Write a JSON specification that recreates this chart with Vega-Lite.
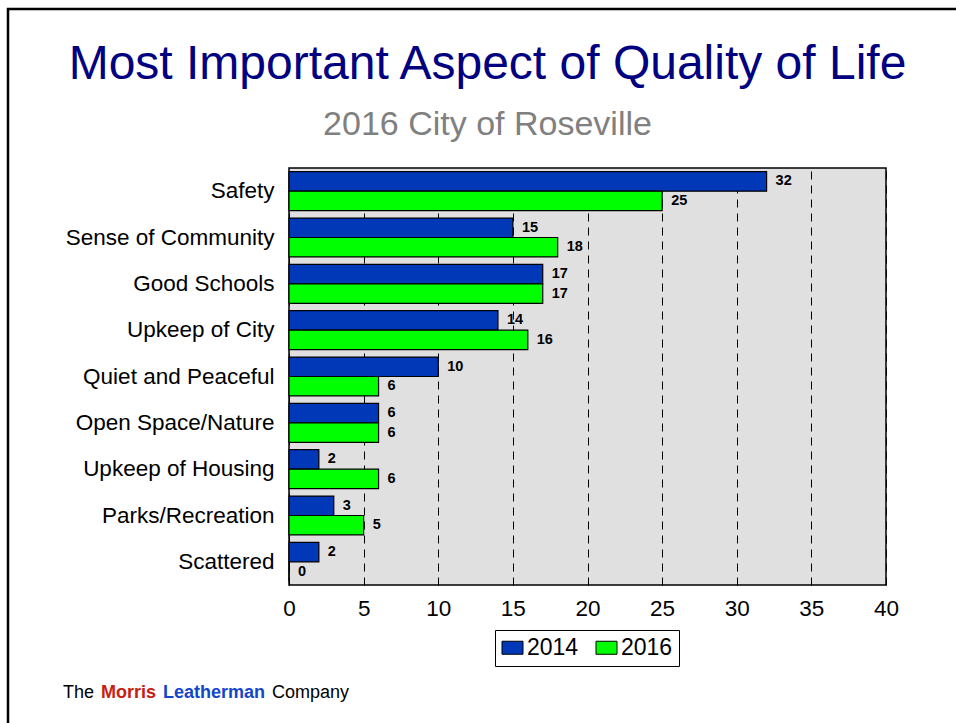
{
  "$schema": "https://vega.github.io/schema/vega-lite/v6.json",
  "autosize": {"type": "none"},
  "padding": {"left": 289, "top": 168, "right": 70, "bottom": 138},
  "width": 597,
  "height": 417,
  "background": "white",
  "config": {
    "font": "Liberation Sans",
    "view": {"fill": "#e0e0e0", "stroke": "black", "strokeWidth": 1.5}
  },
  "title": {
    "text": "Most Important Aspect of Quality of Life",
    "subtitle": "2016 City of Roseville",
    "fontSize": 48,
    "fontWeight": "normal",
    "color": "#000080",
    "subtitleFontSize": 34,
    "subtitleColor": "#808080",
    "anchor": "middle",
    "frame": "group",
    "dx": -100,
    "dy": 160,
    "offset": 26,
    "subtitlePadding": 19
  },
  "data": {
    "values": [
      {"category": "Safety", "year": "2014", "value": 32},
      {"category": "Safety", "year": "2016", "value": 25},
      {"category": "Sense of Community", "year": "2014", "value": 15},
      {"category": "Sense of Community", "year": "2016", "value": 18},
      {"category": "Good Schools", "year": "2014", "value": 17},
      {"category": "Good Schools", "year": "2016", "value": 17},
      {"category": "Upkeep of City", "year": "2014", "value": 14},
      {"category": "Upkeep of City", "year": "2016", "value": 16},
      {"category": "Quiet and Peaceful", "year": "2014", "value": 10},
      {"category": "Quiet and Peaceful", "year": "2016", "value": 6},
      {"category": "Open Space/Nature", "year": "2014", "value": 6},
      {"category": "Open Space/Nature", "year": "2016", "value": 6},
      {"category": "Upkeep of Housing", "year": "2014", "value": 2},
      {"category": "Upkeep of Housing", "year": "2016", "value": 6},
      {"category": "Parks/Recreation", "year": "2014", "value": 3},
      {"category": "Parks/Recreation", "year": "2016", "value": 5},
      {"category": "Scattered", "year": "2014", "value": 2},
      {"category": "Scattered", "year": "2016", "value": 0}
    ]
  },
  "layer": [
    {
      "mark": {"type": "bar", "stroke": "black", "strokeWidth": 1.2},
      "encoding": {
        "y": {
          "field": "category", "type": "nominal", "sort": null,
          "scale": {"paddingInner": 0.16, "paddingOuter": 0.08},
          "axis": {"title": null, "ticks": false, "domain": false, "labelFontSize": 22.5, "labelColor": "black", "labelPadding": 15, "labelLimit": 400}
        },
        "yOffset": {"field": "year", "type": "nominal", "scale": {"paddingInner": 0, "paddingOuter": 0}},
        "x": {
          "field": "value", "type": "quantitative",
          "scale": {"domain": [0, 40], "nice": false},
          "axis": {"title": null, "values": [0, 5, 10, 15, 20, 25, 30, 35, 40], "ticks": false, "domain": false, "labelFontSize": 22.5, "labelColor": "black", "labelPadding": 12, "labelFlush": false, "labelBound": false, "grid": true, "gridColor": "black", "gridOpacity": 1, "gridDash": [8, 6], "gridWidth": 1}
        },
        "color": {
          "field": "year", "type": "nominal",
          "scale": {"domain": ["2014", "2016"], "range": ["#0038B8", "#00FF00"]},
          "legend": {
            "title": null, "orient": "none", "legendX": 206, "legendY": 462, "direction": "horizontal",
            "symbolType": "M-1,-0.62H1V0.62H-1Z", "symbolSize": 441, "symbolStrokeColor": "black", "symbolStrokeWidth": 1,
            "labelFontSize": 23, "labelColor": "black", "labelOffset": 3, "columnPadding": 15,
            "strokeColor": "black", "fillColor": "white", "padding": 6
          }
        }
      }
    },
    {
      "mark": {"type": "text", "align": "left", "baseline": "middle", "dx": 9, "fontWeight": "bold", "fontSize": 14.5, "color": "black"},
      "encoding": {
        "y": {"field": "category", "type": "nominal", "sort": null},
        "yOffset": {"field": "year", "type": "nominal"},
        "x": {"field": "value", "type": "quantitative"},
        "text": {"field": "value", "type": "quantitative"}
      }
    },
    {
      "data": {"values": [{}]},
      "mark": {"type": "text", "text": "The", "align": "left", "baseline": "alphabetic", "fontSize": 18, "color": "black"},
      "encoding": {"x": {"value": -226}, "y": {"value": 530}}
    },
    {
      "data": {"values": [{}]},
      "mark": {"type": "text", "text": "Morris", "align": "left", "baseline": "alphabetic", "fontSize": 18, "fontWeight": "bold", "color": "#C8200E"},
      "encoding": {"x": {"value": -188}, "y": {"value": 530}}
    },
    {
      "data": {"values": [{}]},
      "mark": {"type": "text", "text": "Leatherman", "align": "left", "baseline": "alphabetic", "fontSize": 18, "fontWeight": "bold", "color": "#1446C8"},
      "encoding": {"x": {"value": -126}, "y": {"value": 530}}
    },
    {
      "data": {"values": [{}]},
      "mark": {"type": "text", "text": "Company", "align": "left", "baseline": "alphabetic", "fontSize": 18, "color": "black"},
      "encoding": {"x": {"value": -17}, "y": {"value": 530}}
    },
    {
      "data": {"values": [{}]},
      "mark": {"type": "rect", "fill": "transparent", "stroke": "black", "strokeWidth": 2.5},
      "encoding": {"x": {"value": -281}, "x2": {"value": 700}, "y": {"value": -159}, "y2": {"value": 600}}
    }
  ]
}
